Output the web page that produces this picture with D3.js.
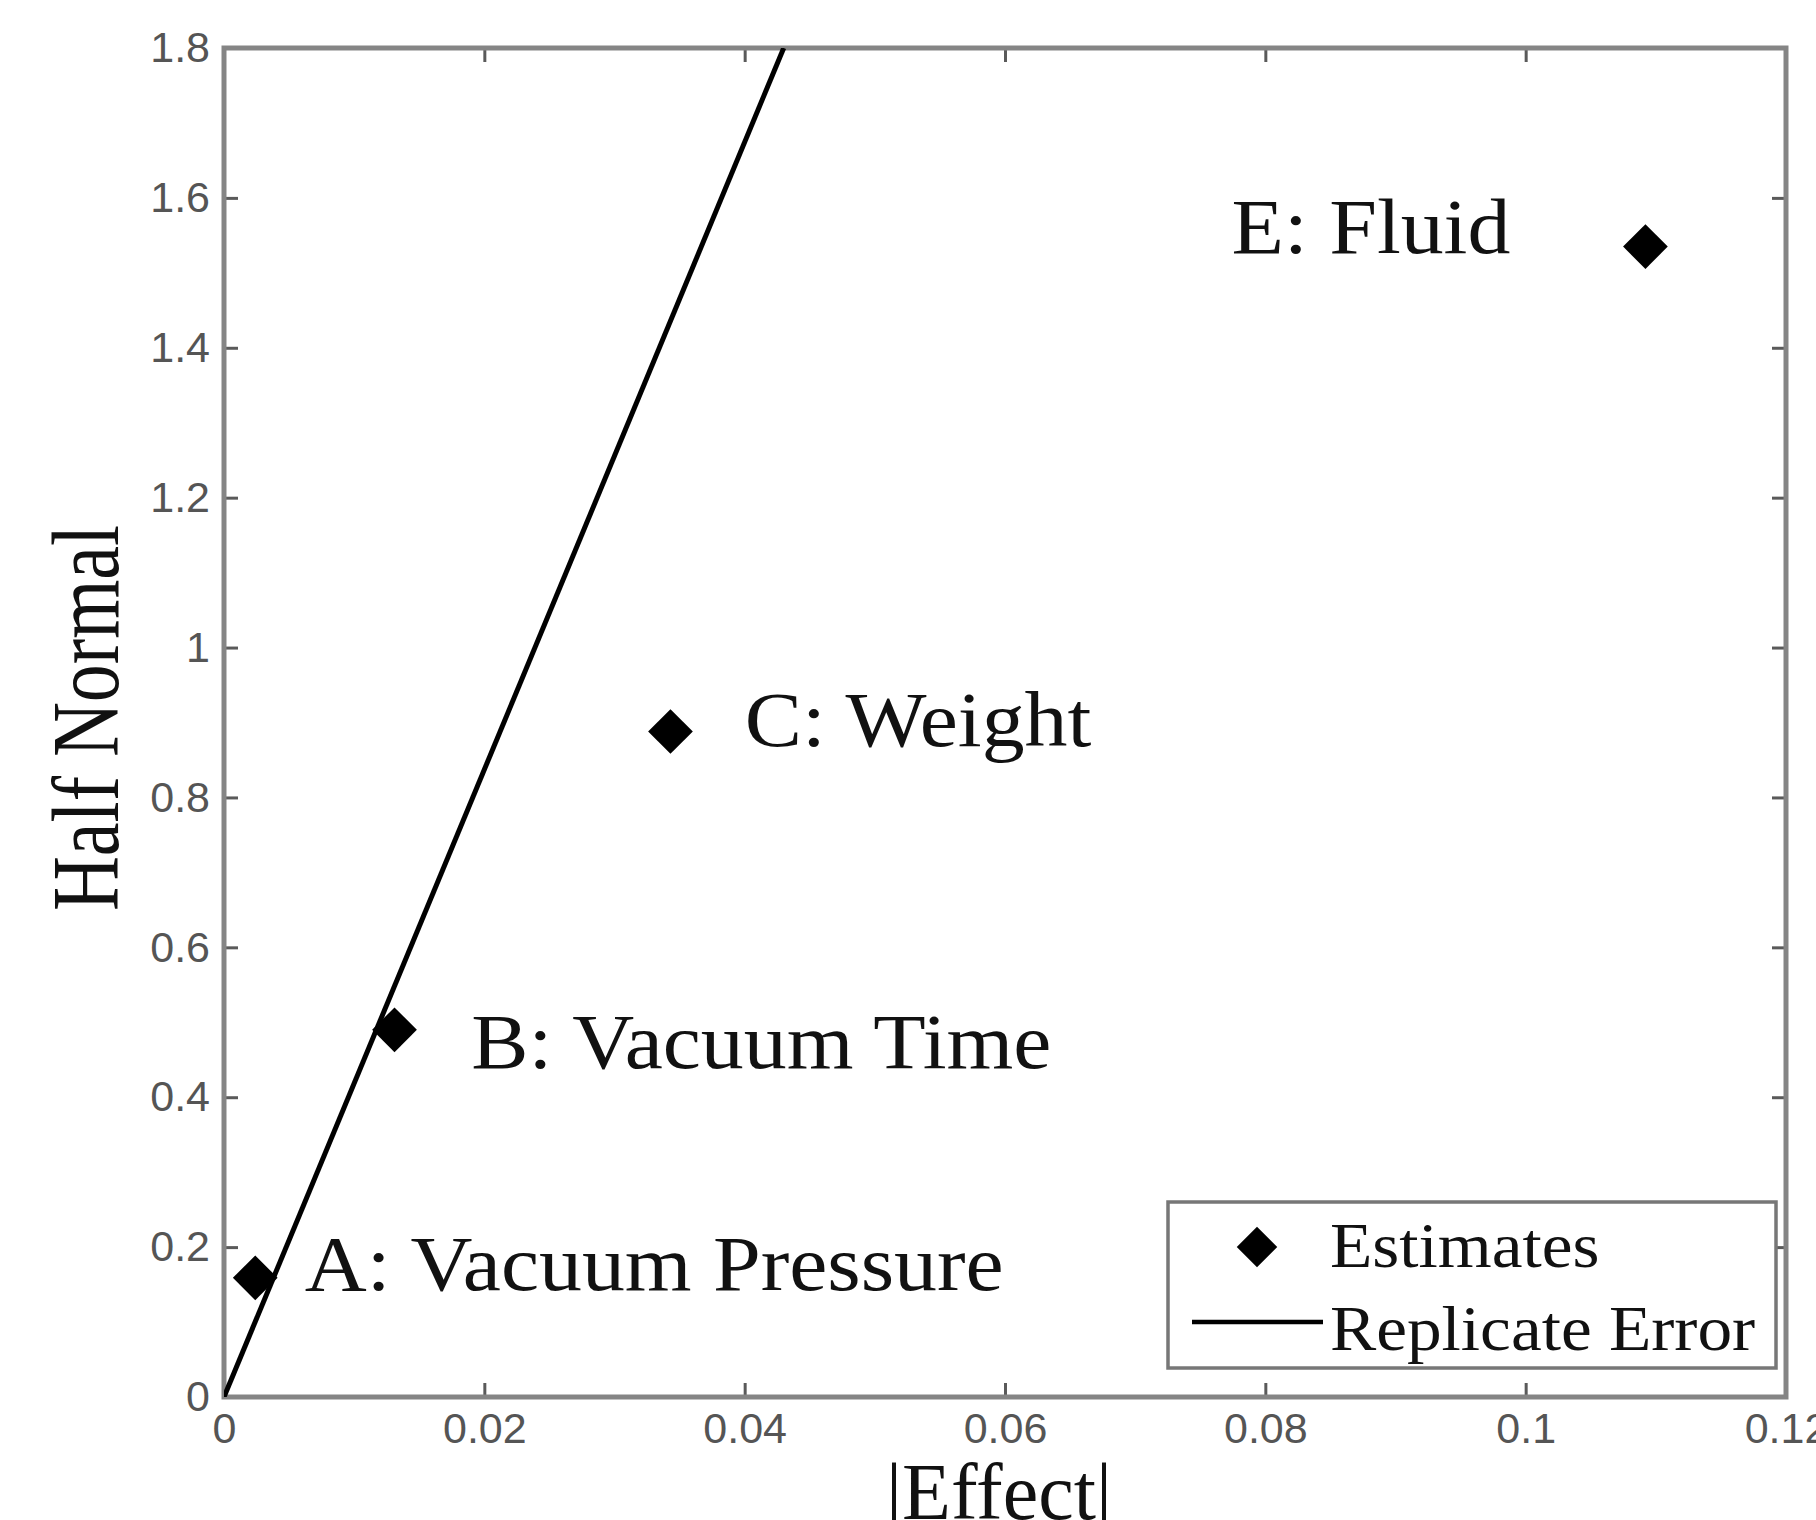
<!DOCTYPE html>
<html>
<head>
<meta charset="utf-8">
<script src="https://cdn.jsdelivr.net/npm/d3@7"></script>
<style>
  body { margin: 0; background: #fff; }
  svg { display: block; }
</style>
</head>
<body>
<svg></svg>
<script>
const factors = ["A: Vacuum Pressure", "B: Vacuum Time", "C: Weight", "E: Fluid"]
const effects = [0.0024, 0.0131, 0.0343, 0.1092]
const halfNormal = [0.159, 0.490, 0.888, 1.535]
// where each factor's label sits, in data units
const labelX = [0.0062, 0.0190, 0.0400, 0.0774]
const labelY = [0.143, 0.439, 0.868, 1.526]

// replicate error reference line
const errorX = [0, 0.043]
const errorY = [0, 1.8]

const xTicks = [0, 0.02, 0.04, 0.06, 0.08, 0.1, 0.12]
const yTicks = [0, 0.2, 0.4, 0.6, 0.8, 1, 1.2, 1.4, 1.6, 1.8]
const legendLabels = ["Estimates", "Replicate Error"]

function createChart() {
  let W = 1816
  let H = 1520
  let margin = {top: 48, right: 30, bottom: 123, left: 224}
  let w = W - margin.left - margin.right
  let h = H - margin.top - margin.bottom

  const svg = d3.select("svg")
  svg.attr("width", W)
     .attr("height", H)

  const x = d3.scaleLinear().domain([0, 0.12]).range([0, w])
  const y = d3.scaleLinear().domain([0, 1.8]).range([h, 0])
  const fmt = d3.format("~g")

  const g = svg.append("g")
    .attr("transform", "translate(" + margin.left + "," + margin.top + ")")

  svg.append("defs").append("clipPath")
    .attr("id", "plotclip")
    .append("rect")
    .attr("width", w)
    .attr("height", h)

//axes, ticks pointing inward on all four sides
  const xAxis = g.append("g")
    .attr("transform", "translate(0," + h + ")")
    .call(d3.axisBottom(x).tickValues(xTicks).tickFormat(fmt).tickSize(-14).tickSizeOuter(0).tickPadding(15))
  const yAxis = g.append("g")
    .call(d3.axisLeft(y).tickValues(yTicks).tickFormat(fmt).tickSize(-14).tickSizeOuter(0).tickPadding(14))
  const topAxis = g.append("g")
    .call(d3.axisTop(x).tickValues(xTicks).tickFormat("").tickSize(-14).tickSizeOuter(0))
  const rightAxis = g.append("g")
    .attr("transform", "translate(" + w + ",0)")
    .call(d3.axisRight(y).tickValues(yTicks).tickFormat("").tickSize(-14).tickSizeOuter(0))

  ;[xAxis, yAxis, topAxis, rightAxis].forEach(function (a) {
    a.select(".domain").remove()
    a.selectAll(".tick line").attr("stroke", "#5a5a5a").attr("stroke-width", 3)
    a.selectAll(".tick text")
      .attr("fill", "#555")
      .style("font-family", "'Liberation Sans', Arial, sans-serif")
      .style("font-size", "43px")
  })

  g.append("rect")
    .attr("width", w)
    .attr("height", h)
    .attr("fill", "none")
    .attr("stroke", "#858585")
    .attr("stroke-width", 5)

//replicate error line
  const line = d3.line()
    .x(function (d) { return x(d[0]) })
    .y(function (d) { return y(d[1]) })
  g.append("path")
    .datum(d3.zip(errorX, errorY))
    .attr("clip-path", "url(#plotclip)")
    .attr("fill", "none")
    .attr("stroke", "#000")
    .attr("stroke-width", 5)
    .attr("d", line)

//estimates as diamonds
  const diamond = d3.symbol().type(d3.symbolSquare).size(1000)
  g.selectAll(".pt")
    .data(effects)
    .enter()
    .append("path")
    .attr("class", "pt")
    .attr("d", diamond)
    .attr("fill", "#000")
    .attr("transform", function (d, i) {
      return "translate(" + x(d) + "," + y(halfNormal[i]) + ") rotate(45)"
    })

//factor labels
  g.selectAll(".lbl")
    .data(factors)
    .enter()
    .append("text")
    .attr("class", "lbl")
    .attr("transform", function (d, i) {
      return "translate(" + x(labelX[i]) + "," + y(labelY[i]) + ") scale(1.1,1)"
    })
    .style("font-family", "'Liberation Serif', 'Times New Roman', serif")
    .style("font-size", "78px")
    .attr("fill", "#111")
    .text(function (d) { return d })

//axis titles
  svg.append("text")
    .attr("x", margin.left + w / 2 - 6)
    .attr("y", 1519)
    .attr("text-anchor", "middle")
    .style("font-family", "'Liberation Serif', 'Times New Roman', serif")
    .style("font-size", "80px")
    .attr("fill", "#111")
    .text("|Effect|")

  svg.append("text")
    .attr("transform", "translate(118,718) rotate(-90) scale(1,1.25)")
    .attr("text-anchor", "middle")
    .style("font-family", "'Liberation Serif', 'Times New Roman', serif")
    .style("font-size", "76px")
    .attr("fill", "#111")
    .text("Half Normal")

//add legend
  const legend = svg.append("g")
    .attr("id", "legend")
    .attr("transform", "translate(1168,1202)")

  legend.append("rect")
    .attr("width", 608)
    .attr("height", 166)
    .attr("fill", "#fff")
    .attr("stroke", "#777")
    .attr("stroke-width", 3.5)

  legend.append("path")
    .attr("d", d3.symbol().type(d3.symbolSquare).size(820))
    .attr("fill", "#000")
    .attr("transform", "translate(89,45) rotate(45)")

  legend.append("line")
    .attr("x1", 24)
    .attr("x2", 155)
    .attr("y1", 120)
    .attr("y2", 120)
    .attr("stroke", "#000")
    .attr("stroke-width", 4.5)

  legend.selectAll(".leg")
    .data(legendLabels)
    .enter()
    .append("text")
    .attr("class", "leg")
    .attr("transform", function (d, i) {
      return "translate(162," + (65 + i * 83) + ") scale(1.1,1)"
    })
    .style("font-family", "'Liberation Serif', 'Times New Roman', serif")
    .style("font-size", "63px")
    .attr("fill", "#111")
    .text(function (d) { return d })
}

createChart()
</script>
</body>
</html>
